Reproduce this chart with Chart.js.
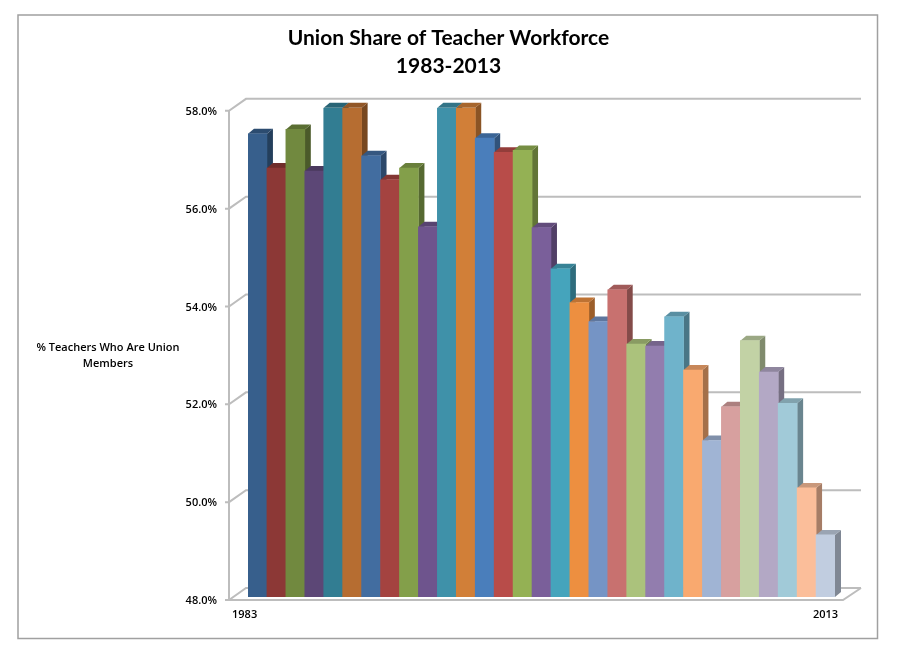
<!DOCTYPE html>
<html>
<head>
<meta charset="utf-8">
<title>Union Share of Teacher Workforce</title>
<script src="https://cdn.jsdelivr.net/npm/chart.js@4"></script>
<style>
  html, body { margin: 0; padding: 0; background: #fff; }
  canvas { display: block; }
</style>
</head>
<body>
<canvas id="chart" width="897" height="655"></canvas>
<script>
const years = [1983, 1984, 1985, 1986, 1987, 1988, 1989, 1990, 1991, 1992, 1993, 1994, 1995, 1996, 1997, 1998,
  1999, 2000, 2001, 2002, 2003, 2004, 2005, 2006, 2007, 2008, 2009, 2010, 2011, 2012, 2013];

const unionShare = [57.47, 56.77, 57.56, 56.71, 58.0, 58.0, 57.02, 56.53, 56.77, 55.57, 58.0, 58.0, 57.38, 57.09, 57.13, 55.55,
  54.71, 54.02, 53.63, 54.28, 53.17, 53.13, 53.73, 52.64, 51.2, 51.89, 53.24, 52.6, 51.96, 50.23, 49.27];

//one colour per bar, the front face
const barColors = [
  "#375f8c", "#8c3836", "#71893f", "#5c4776", "#327d92", "#b66d31",
  "#426da0", "#a44340", "#839f4a", "#6e548d", "#3f91a9", "#d17f38",
  "#4a7ebb", "#b84c49", "#94b154", "#7a5f9a", "#45a4bc", "#ed8f40",
  "#7594c5", "#c8716f", "#abc27c", "#927dae", "#6fb3cb", "#f9a96f",
  "#a0b4d4", "#d7a09f", "#c2d2a5", "#b3a8c5", "#a1cad8", "#fbbe9a", "#c1cde0",
];

const chartTitle = ["Union Share of Teacher Workforce", "1983-2013"];
const axisTitle = ["% Teachers Who Are Union", "Members"];

const labelFont = "Open Sans";
const gridColor = "#bdbdbd";

//multiply a hex colour, used for the shaded sides of the bars
const shade = (hex, f) => {
  const n = parseInt(hex.slice(1), 16);
  const c = [n >> 16, (n >> 8) & 255, n & 255].map((v) => Math.round(v * f));
  return `rgb(${c[0]},${c[1]},${c[2]})`;
};

//depth of the bars
const barDepth = { x: 6, y: 5 };

const frame3d = {
  id: "frame3d",
  beforeDraw(chart) {
    const ctx = chart.ctx;
    ctx.save();
    ctx.strokeStyle = "#a0a0a0";
    ctx.lineWidth = 1.5;
    ctx.strokeRect(18, 15, 859.5, 623.5);
    ctx.restore();
  },
  beforeDatasetsDraw(chart) {
    const ctx = chart.ctx;
    const y = chart.scales.y;
    const { left, right, bottom } = chart.chartArea;
    const axisX = left - 19;
    const backRight = right + 26;
    const floorRight = right + 8;

    ctx.save();
    ctx.strokeStyle = gridColor;
    ctx.lineWidth = 2;
    y.ticks.forEach((t) => {
      const py = y.getPixelForValue(t.value);
      ctx.beginPath();
      ctx.moveTo(axisX - 4, py + 3);
      ctx.lineTo(axisX, py + 3);
      ctx.lineTo(left - 2, py - 9);
      ctx.lineTo(backRight, py - 9);
      ctx.stroke();
    });

    //left axis and the floor
    ctx.beginPath();
    ctx.moveTo(axisX, y.getPixelForValue(58) + 3);
    ctx.lineTo(axisX, bottom + 3);
    ctx.lineTo(floorRight, bottom + 3);
    ctx.lineTo(backRight, bottom - 9);
    ctx.stroke();

    //y axis caption, Chart.js would rotate it
    ctx.fillStyle = "#000";
    ctx.font = `600 11px "${labelFont}"`;
    ctx.textAlign = "center";
    ctx.textBaseline = "middle";
    axisTitle.forEach((line, i) => ctx.fillText(line, 108, 348 + i * 16));

    //sides and tops of the bars, the fronts are drawn by the dataset over them
    chart.getDatasetMeta(0).data.forEach((bar, i) => {
      const x0 = bar.x - bar.width / 2;
      const x1 = bar.x + bar.width / 2;
      ctx.fillStyle = shade(barColors[i], 0.66);
      ctx.beginPath();
      ctx.moveTo(x1, bar.y);
      ctx.lineTo(x1 + barDepth.x, bar.y - barDepth.y);
      ctx.lineTo(x1 + barDepth.x, bottom - barDepth.y);
      ctx.lineTo(x1, bottom);
      ctx.closePath();
      ctx.fill();
      ctx.fillStyle = shade(barColors[i], 0.8);
      ctx.beginPath();
      ctx.moveTo(x0, bar.y);
      ctx.lineTo(x0 + barDepth.x, bar.y - barDepth.y);
      ctx.lineTo(x1 + barDepth.x, bar.y - barDepth.y);
      ctx.lineTo(x1, bar.y);
      ctx.closePath();
      ctx.fill();
    });
    ctx.restore();
  },
};

new Chart(document.getElementById("chart"), {
  type: "bar",
  plugins: [frame3d],
  data: {
    labels: years,
    datasets: [
      {
        data: unionShare,
        backgroundColor: barColors,
        borderWidth: 0,
        barPercentage: 1,
        categoryPercentage: 1,
      },
    ],
  },
  options: {
    responsive: false,
    animation: false,
    devicePixelRatio: 1,
    //same padding on both sides keeps the title centred on the page
    layout: { padding: { left: 62, right: 62, top: 0, bottom: 0 } },
    plugins: {
      legend: { display: false },
      tooltip: { enabled: false },
      title: {
        display: true,
        text: chartTitle,
        color: "#000",
        font: { family: "Lato", size: 21, weight: "bold", lineHeight: 1.33 },
        padding: { top: 24, bottom: 28 },
      },
    },
    scales: {
      x: {
        grid: { display: false },
        border: { display: false },
        afterFit: (s) => { s.height = 58; },
        ticks: {
          autoSkip: false,
          maxRotation: 0,
          padding: 3,
          color: "#000",
          font: { family: labelFont, size: 11, weight: "600" },
          //only the first and last year are labelled, 1983 sits left of its bar
          callback: (_, i) => {
            if (i === 0) return String(years[i]).padEnd(13, " ");
            return i === years.length - 1 ? String(years[i]) : "";
          },
        },
      },
      y: {
        min: 48,
        max: 58,
        grid: { display: false },
        border: { display: false },
        afterFit: (s) => { s.width = 186; },
        ticks: {
          stepSize: 2,
          padding: 23,
          labelOffset: 4,
          color: "#000",
          font: { family: labelFont, size: 11, weight: "600" },
          callback: (v) => v.toFixed(1) + "%",
        },
      },
    },
  },
});
</script>
</body>
</html>
